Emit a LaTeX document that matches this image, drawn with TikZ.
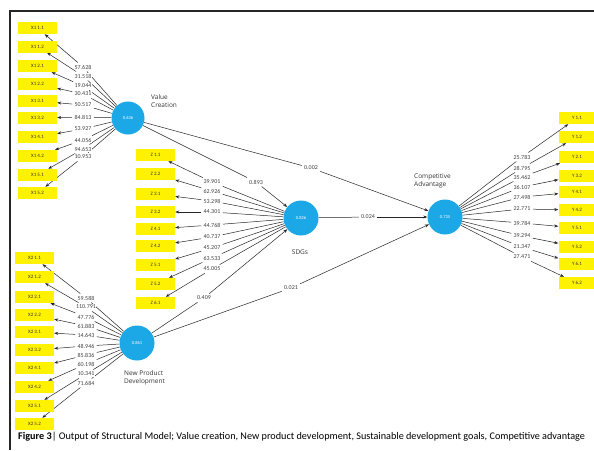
\documentclass[tikz,border=0pt]{standalone}
\usepackage{fontspec}
\setmainfont{Carlito}
\newfontfamily\osans{Open Sans}
\usetikzlibrary{arrows.meta}
\pgfdeclarelayer{lines}
\pgfsetlayers{lines,main}
\definecolor{yel}{RGB}{255,242,0}
\definecolor{cblue}{RGB}{28,168,230}
\tikzset{
  ind/.style={rectangle, fill=yel, minimum width=39pt, minimum height=12pt, inner sep=0pt, font=\fontsize{5}{5}\selectfont, text=black!80},
  lv/.style={circle, fill=cblue, minimum size=35pt, inner sep=0pt, text=white, font=\fontsize{4.5}{5}\selectfont},
  num/.style={fill=white, inner sep=0.6pt, outer sep=1.8pt, font=\fontsize{6}{6}\selectfont, text=black!75},
  lnk/.style={draw=black!85, line width=0.5pt, -{Stealth[length=4pt,width=3pt]}},
  seg/.style={draw=black!85, line width=0.5pt},
  cname/.style={font=\osans\fontsize{6.5}{8}\selectfont, text=black!80, align=left, anchor=west, inner sep=0pt},
}
\begin{document}
\begin{tikzpicture}[x=1pt,y=-1pt]
\useasboundingbox (0,0) rectangle (594,450);
\draw[line width=1.2pt, black!85] (10,450) coordinate (fb) -- (10,11) coordinate (ft) -- (594,11) coordinate (fr);
% latent variables
\node[lv, minimum size=33pt] (vc) at (128,118) {0.636};
\node[lv] (sdg) at (301,218) {0.826};
\node[lv] (ca) at (445,217) {0.735};
\node[lv] (npd) at (137,343) {0.861};
\node[cname] (vcn) at (151,101) {Value\\Creation};
\node[font=\osans\fontsize{6.5}{8}\selectfont, text=black!80, inner sep=0pt] (sdgn) at (300,252) {SDGs};
\node[cname] (can) at (414,181) {Competitive\\Advantage};
\node[cname] (npdn) at (124,378) {New Product\\Development};
% X1 indicators
\foreach \n/\y/\t in {1/28/X1 1.1,2/46.5/X1 1.2,3/66/X1 2.1,4/84/X1 2.2,5/101/X1 3.1,6/118/X1 3.2,7/137/X1 4.1,8/156/X1 4.2,9/175/X1 5.1,10/193/X1 5.2}
  {\node[ind] (xa\n) at (37.5,\y) {\t};}
% Z indicators
\foreach \n/\y/\t in {1/155/Z 1.1,2/174/Z 2.2,3/194/Z 3.1,4/212/Z 3.2,5/229/Z 4.1,6/246/Z 4.2,7/265/Z 5.1,8/284/Z 5.2,9/303/Z 6.1}
  {\node[ind] (z\n) at (155.5,\y) {\t};}
% X2 indicators
\foreach \n/\y/\t in {1/258/X2 1.1,2/277/X2 1.2,3/297/X2 2.1,4/315/X2 2.2,5/332/X2 3.1,6/350/X2 3.2,7/368/X2 4.1,8/387/X2 4.2,9/406/X2 5.1,10/424/X2 5.2}
  {\node[ind] (xb\n) at (34.5,\y) {\t};}
% Y indicators
\foreach \n/\y/\t in {1/118/Y 1.1,2/137/Y 1.2,3/157/Y 2.1,4/176/Y 3.2,5/192/Y 4.1,6/210/Y 4.2,7/228/Y 5.1,8/247/Y 5.2,9/264/Y 6.1,10/283/Y 6.2}
  {\node[ind, minimum width=37pt] (y\n) at (577,\y) {\t};}
% loading labels
\foreach \n/\y/\v in {1/67/57.628,2/76/31.518,3/86/19.044,4/94/30.431,5/105/50.517,6/117/84.813,7/129/53.927,8/140/44.056,9/149/94.653,10/157/10.953}
  {\node[num] (la\n) at (83,\y) {\v};}
\foreach \n/\y/\v in {1/182/39.901,2/191/62.926,3/201/53.298,4/212/44.301,5/225/44.768,6/237/40.737,7/248/45.207,8/258/63.533,9/269/45.005}
  {\node[num] (lz\n) at (212,\y) {\v};}
\foreach \n/\y/\v in {1/298/59.588,2/307/110.791,3/317/47.776,4/326/61.883,5/335/14.643,6/346/48.946,7/355/85.836,8/364/60.198,9/374/10.341,10/383/71.684}
  {\node[num] (lb\n) at (86,\y) {\v};}
\foreach \n/\y/\v in {1/157/25.783,2/168/28.795,3/177/35.462,4/187/36.107,5/197/27.498,6/209/22.771,7/223/39.784,8/236/39.294,9/247/21.347,10/257/27.471}
  {\node[num] (ly\n) at (522,\y) {\v};}
% path coefficient labels
\node[num] (p1) at (256,182) {0.893};
\node[num] (p2) at (311,168) {0.002};
\node[num] (p3) at (368,217) {0.024};
\node[num] (p4) at (291,288) {0.021};
\node[num] (p5) at (204,298) {0.409};
\begin{pgfonlayer}{lines}
% outer links
\foreach \n in {1,...,10} {\draw[seg] (vc) -- (la\n); \draw[lnk] (la\n) -- (xa\n);}
\foreach \n in {1,...,9} {\draw[seg] (sdg) -- (lz\n); \draw[lnk] (lz\n) -- (z\n);}
\foreach \n in {1,...,10} {\draw[seg] (npd) -- (lb\n); \draw[lnk] (lb\n) -- (xb\n);}
\foreach \n in {1,...,10} {\draw[seg] (ca) -- (ly\n); \draw[lnk] (ly\n) -- (y\n);}
% structural paths
\draw[seg] (vc) -- (p1); \draw[lnk] (p1) -- (sdg);
\draw[seg] (vc) -- (p2); \draw[lnk] (p2) -- (ca);
\draw[seg] (sdg) -- (p3); \draw[lnk] (p3) -- (ca);
\draw[seg] (npd) -- (p4); \draw[lnk] (p4) -- (ca);
\draw[seg] (npd) -- (p5); \draw[lnk] (p5) -- (sdg);
\end{pgfonlayer}
% caption
\node[anchor=west, inner sep=0pt, font=\fontsize{10.2}{11}\selectfont] (cap) at (18,437) {\textbf{Figure 3}| Output of Structural Model; Value creation, New product development, Sustainable development goals, Competitive advantage};
\end{tikzpicture}
\end{document}
